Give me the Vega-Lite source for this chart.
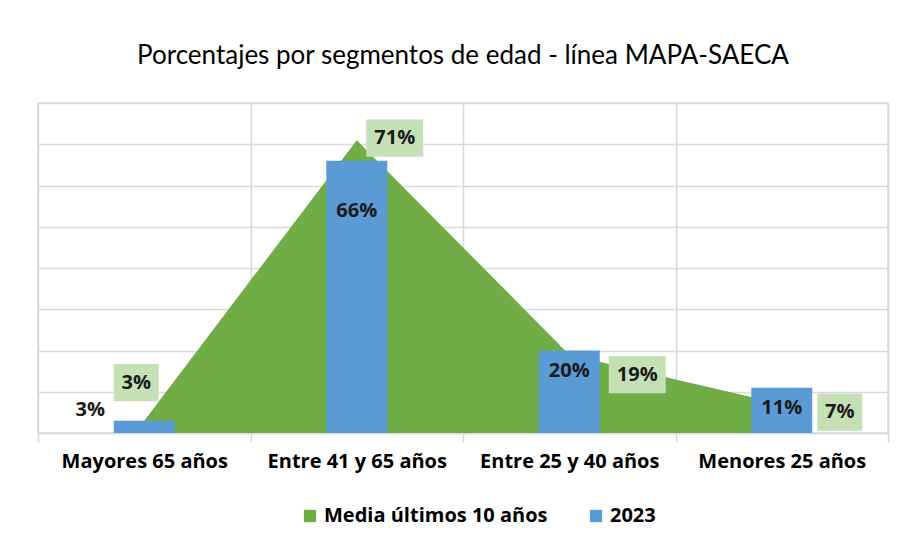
{
  "$schema": "https://vega.github.io/schema/vega-lite/v6.json",
  "autosize": {"type": "none"},
  "width": 850,
  "height": 330,
  "padding": {"left": 38, "top": 103, "right": 18, "bottom": 116},
  "background": "white",
  "title": {
    "text": "Porcentajes por segmentos de edad - línea MAPA-SAECA",
    "font": "Lato",
    "fontSize": 26,
    "fontWeight": "normal",
    "color": "#000000",
    "anchor": "middle",
    "offset": 34
  },
  "data": {
    "values": [
      {"segmento": "Mayores 65 años", "serie": "Media últimos 10 años", "valor": 0.03},
      {"segmento": "Entre 41 y 65 años", "serie": "Media últimos 10 años", "valor": 0.71},
      {"segmento": "Entre 25 y 40 años", "serie": "Media últimos 10 años", "valor": 0.19},
      {"segmento": "Menores 25 años", "serie": "Media últimos 10 años", "valor": 0.07},
      {"segmento": "Mayores 65 años", "serie": "2023", "valor": 0.03},
      {"segmento": "Entre 41 y 65 años", "serie": "2023", "valor": 0.66},
      {"segmento": "Entre 25 y 40 años", "serie": "2023", "valor": 0.20},
      {"segmento": "Menores 25 años", "serie": "2023", "valor": 0.11}
    ]
  },
  "encoding": {
    "x": {
      "field": "segmento",
      "type": "nominal",
      "bandPosition": 0.5,
      "sort": ["Mayores 65 años", "Entre 41 y 65 años", "Entre 25 y 40 años", "Menores 25 años"],
      "scale": {"paddingInner": 0, "paddingOuter": 0},
      "axis": {
        "title": null,
        "labelAngle": 0,
        "grid": true,
        "tickBand": "extent",
        "gridColor": "#d9d9d9",
        "gridWidth": 1.5,
        "tickColor": "#d9d9d9",
        "tickWidth": 1.5,
        "tickSize": 9,
        "domainColor": "#d9d9d9",
        "domainWidth": 1.5,
        "labelFont": "Open Sans",
        "labelFontSize": 20,
        "labelFontWeight": "bold",
        "labelColor": "#000000",
        "labelPadding": 9,
        "labelLimit": 220
      }
    },
    "y": {
      "field": "valor",
      "type": "quantitative",
      "scale": {"domain": [0, 0.8], "nice": false},
      "axis": {
        "title": null,
        "labels": false,
        "ticks": false,
        "domain": false,
        "grid": true,
        "values": [0, 0.1, 0.2, 0.3, 0.4, 0.5, 0.6, 0.7, 0.8],
        "gridColor": "#d9d9d9",
        "gridWidth": 1.5
      }
    }
  },
  "layer": [
    {
      "transform": [{"filter": "datum.serie === 'Media últimos 10 años'"}],
      "mark": {"type": "area", "interpolate": "linear", "opacity": 1},
      "encoding": {
        "color": {
          "field": "serie",
          "type": "nominal",
          "scale": {"domain": ["Media últimos 10 años", "2023"], "range": ["#70ad47", "#5b9bd5"]},
          "legend": {
            "title": null,
            "orient": "none",
            "legendX": 262,
            "legendY": 403,
            "direction": "horizontal",
            "symbolType": "square",
            "symbolSize": 150,
            "symbolStrokeWidth": 0,
            "symbolOpacity": 1,
            "labelFont": "Open Sans",
            "labelFontSize": 20,
            "labelFontWeight": "bold",
            "labelColor": "#000000",
            "labelLimit": 300,
            "labelOffset": 4,
            "columnPadding": 38
          }
        }
      }
    },
    {
      "transform": [{"filter": "datum.serie === '2023'"}],
      "mark": {"type": "bar", "width": 61},
      "encoding": {
        "color": {"field": "serie", "type": "nominal"}
      }
    },
    {
      "transform": [{"filter": "datum.serie === 'Media últimos 10 años' && datum.segmento === 'Mayores 65 años'"}],
      "layer": [
        {"mark": {"type": "point", "filled": true, "fill": "#c5e0b4", "opacity": 1, "strokeWidth": 0, "size": 3600, "shape": "M-0.75,-0.617L0.75,-0.617L0.75,0.617L-0.75,0.617Z", "xOffset": -8, "yOffset": -38}},
        {"mark": {"type": "text", "font": "Open Sans", "fontSize": 20, "fontWeight": "bold", "color": "#1a1a1a", "dx": -8, "dy": -38}, "encoding": {"text": {"field": "valor", "type": "quantitative", "format": ".0%"}}}
      ]
    },
    {
      "transform": [{"filter": "datum.serie === 'Media últimos 10 años' && datum.segmento === 'Entre 41 y 65 años'"}],
      "layer": [
        {"mark": {"type": "point", "filled": true, "fill": "#c5e0b4", "opacity": 1, "strokeWidth": 0, "size": 3600, "shape": "M-0.95,-0.617L0.95,-0.617L0.95,0.617L-0.95,0.617Z", "xOffset": 38, "yOffset": -2}},
        {"mark": {"type": "text", "font": "Open Sans", "fontSize": 20, "fontWeight": "bold", "color": "#1a1a1a", "dx": 38, "dy": -2}, "encoding": {"text": {"field": "valor", "type": "quantitative", "format": ".0%"}}}
      ]
    },
    {
      "transform": [{"filter": "datum.serie === 'Media últimos 10 años' && datum.segmento === 'Entre 25 y 40 años'"}],
      "layer": [
        {"mark": {"type": "point", "filled": true, "fill": "#c5e0b4", "opacity": 1, "strokeWidth": 0, "size": 3600, "shape": "M-0.95,-0.617L0.95,-0.617L0.95,0.617L-0.95,0.617Z", "xOffset": 68, "yOffset": 20}},
        {"mark": {"type": "text", "font": "Open Sans", "fontSize": 20, "fontWeight": "bold", "color": "#1a1a1a", "dx": 68, "dy": 20}, "encoding": {"text": {"field": "valor", "type": "quantitative", "format": ".0%"}}}
      ]
    },
    {
      "transform": [{"filter": "datum.serie === 'Media últimos 10 años' && datum.segmento === 'Menores 25 años'"}],
      "layer": [
        {"mark": {"type": "point", "filled": true, "fill": "#c5e0b4", "opacity": 1, "strokeWidth": 0, "size": 3600, "shape": "M-0.75,-0.617L0.75,-0.617L0.75,0.617L-0.75,0.617Z", "xOffset": 58, "yOffset": 8}},
        {"mark": {"type": "text", "font": "Open Sans", "fontSize": 20, "fontWeight": "bold", "color": "#1a1a1a", "dx": 58, "dy": 8}, "encoding": {"text": {"field": "valor", "type": "quantitative", "format": ".0%"}}}
      ]
    },
    {
      "transform": [{"filter": "datum.serie === '2023' && datum.segmento === 'Mayores 65 años'"}],
      "mark": {"type": "text", "font": "Open Sans", "fontSize": 20, "fontWeight": "bold", "color": "#1a1a1a", "dx": -54, "dy": -11},
      "encoding": {"text": {"field": "valor", "type": "quantitative", "format": ".0%"}}
    },
    {
      "transform": [{"filter": "datum.serie === '2023' && datum.segmento === 'Entre 41 y 65 años'"}],
      "mark": {"type": "text", "font": "Open Sans", "fontSize": 20, "fontWeight": "bold", "color": "#1a1a1a", "dy": 50},
      "encoding": {"text": {"field": "valor", "type": "quantitative", "format": ".0%"}}
    },
    {
      "transform": [{"filter": "datum.serie === '2023' && (datum.segmento === 'Entre 25 y 40 años' || datum.segmento === 'Menores 25 años')"}],
      "mark": {"type": "text", "font": "Open Sans", "fontSize": 20, "fontWeight": "bold", "color": "#1a1a1a", "dy": 20},
      "encoding": {"text": {"field": "valor", "type": "quantitative", "format": ".0%"}}
    }
  ],
  "config": {
    "view": {"stroke": "#d9d9d9", "strokeWidth": 1.5}
  }
}
